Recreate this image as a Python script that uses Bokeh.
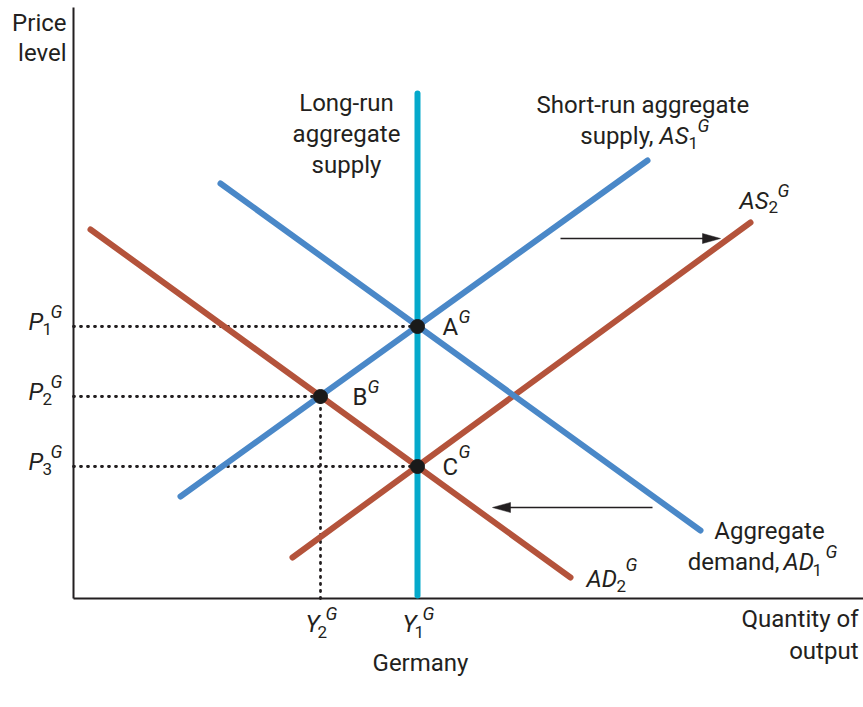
from bokeh.plotting import figure
from bokeh.models import Range1d, ColumnDataSource
from bokeh.core.properties import value
from bokeh.embed import file_html
from bokeh.resources import INLINE

# ---------------- data (quantity units, price units) ----------------
# equilibrium output levels
y_levels = [24.7, 34.4]            # Y2G, Y1G
y_names = ["2", "1"]
# price levels
p_levels = [27.2, 20.2, 13.2]      # P1G, P2G, P3G
p_names = ["1", "2", "3"]

# curves (endpoints)
as1_x = [10.7, 57.4]
as1_y = [10.2, 43.8]
ad1_x = [14.7, 62.7]
ad1_y = [41.5, 6.8]
as2_x = [21.9, 67.7]
as2_y = [4.1, 37.6]
ad2_x = [1.7, 49.7]
ad2_y = [36.9, 2.1]
lras_x = [34.4, 34.4]
lras_y = [0.3, 50.5]

# equilibria
eq_names = ["A", "B", "C"]
eq_x = [34.4, 24.7, 34.4]
eq_y = [27.2, 20.2, 13.2]

# shift arrows
arrow_x0 = [48.7, 57.9]
arrow_x1 = [64.7, 41.9]
arrow_y = [36.0, 9.1]

# axis extents
x_max = 79.0
y_max = 59.1

BLUE = "#4A88C8"
RED = "#B4533B"
CYAN = "#05A9CB"
INK = "#231F20"
FONT = value("Roboto")
DY = 0.9   # baseline correction for text placement

p = figure(width=863, height=707, x_range=Range1d(-7.3, 79.0), y_range=Range1d(-10.9, 59.8),
           output_backend="svg", toolbar_location=None, min_border=0,
           x_axis_location=None, y_axis_location=None, outline_line_color=None)
p.grid.visible = False
p.background_fill_color = "white"
p.border_fill_color = "white"

# axes
p.line([0, 0], [0, y_max], line_color=INK, line_width=2)
p.line([0, x_max], [0, 0], line_color=INK, line_width=2)

# dotted guides
for lvl, ex in zip(p_levels, eq_x):
    p.line([0, ex], [lvl, lvl], line_color=INK, line_width=2.8, line_dash="1 6", line_cap="round")
p.line([eq_x[1], eq_x[1]], [0, eq_y[1]], line_color=INK, line_width=2.8, line_dash="1 6", line_cap="round")

# curves
for xs, ys, c in [(ad2_x, ad2_y, RED), (as2_x, as2_y, RED), (ad1_x, ad1_y, BLUE), (as1_x, as1_y, BLUE)]:
    p.line(xs, ys, line_color=c, line_width=6, line_cap="round")
p.line(lras_x, lras_y, line_color=CYAN, line_width=6, line_cap="round")

# arrows
head_len, head_half = 1.8, 0.5
for x0, x1, y in zip(arrow_x0, arrow_x1, arrow_y):
    d = 1 if x1 > x0 else -1
    p.line([x0, x1 - d * head_len * 0.8], [y, y], line_color=INK, line_width=1.6)
    p.patch([x1, x1 - d * head_len, x1 - d * head_len], [y, y + head_half, y - head_half],
            fill_color=INK, line_color=INK, line_width=0.5)

# equilibrium dots
p.scatter(eq_x, eq_y, size=14, fill_color="#1A1A1A", line_color="#1A1A1A")


def txt(src, size, style, align="left"):
    src = dict(src)
    src["y"] = [v + DY for v in src["y"]]
    p.text(x="x", y="y", text="t", source=ColumnDataSource(src), text_font=FONT,
           text_font_size=size, text_font_style=style, text_color=INK,
           text_align=align, text_baseline="alphabetic")


# normal left-aligned text
txt(dict(t=["Short-run aggregate"], x=[46.3], y=[48.5]), "24px", "normal")
# right-aligned words before symbols
txt(dict(t=["supply,", "demand,"], x=[58.0, 70.6], y=[45.4, 2.8]), "24px", "normal", "right")
# centred text
txt(dict(t=["Long-run", "aggregate", "supply", "Aggregate", "Germany"],
         x=[27.3, 27.3, 27.3, 69.6, 34.7], y=[48.7, 45.6, 42.5, 5.9, -7.35]), "24px", "normal", "center")
# right-aligned text
txt(dict(t=["Price", "level", "Quantity of", "output"],
         x=[-0.7, -0.7, 78.5, 78.5], y=[56.7, 53.7, -2.9, -6.1]), "24px", "normal", "right")
# equilibrium point letters (upright)
txt(dict(t=eq_names, x=[ex + 2.5 if i != 1 else ex + 3.2 for i, ex in enumerate(eq_x)],
         y=[ey - 0.9 for ey in eq_y]), "24px", "normal")
txt(dict(t=["G"] * 3, x=[ex + 4.1 if i != 1 else ex + 4.7 for i, ex in enumerate(eq_x)],
         y=[ey + 0.1 if i != 2 else ey + 0.6 for i, ey in enumerate(eq_y)]), "18px", "italic")

# italic symbols
sym_t = ["AS", "AS", "AD", "AD"] + ["P"] * 3 + ["Y"] * 2
sym_x = [58.6, 66.6, 71.0, 51.3] + [-4.5] * 3 + [yl - 1.5 for yl in y_levels]
sym_y = [45.4, 38.9, 2.8, 1.1] + [pl - 0.4 for pl in p_levels] + [-3.4] * 2
txt(dict(t=sym_t, x=sym_x, y=sym_y), "24px", "italic")
# subscripts
sub_t = ["1", "2", "1", "2"] + p_names + y_names
sub_x = [61.5, 69.5, 73.9, 54.3] + [-3.1] * 3 + [yl - 0.3 for yl in y_levels]
sub_y = [44.7, 38.3, 2.0, 0.4] + [pl - 1.1 for pl in p_levels] + [-4.2] * 2
txt(dict(t=sub_t, x=sub_x, y=sub_y), "17px", "normal")
# superscripts
sup_x = [62.4, 70.4, 75.2, 55.2] + [-2.3] * 3 + [yl + 0.5 for yl in y_levels]
sup_y = [46.4, 39.9, 3.8, 2.5] + [pl + 0.6 for pl in p_levels] + [-2.4] * 2
txt(dict(t=["G"] * len(sup_x), x=sup_x, y=sup_y), "18px", "italic")

open("out.html", "w").write(file_html(p, INLINE))
